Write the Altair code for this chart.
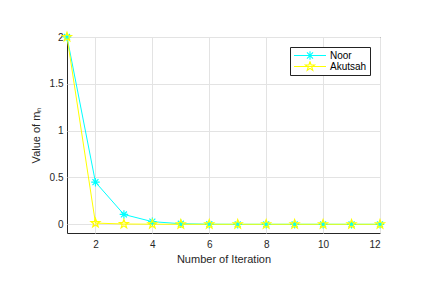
import altair as alt
import pandas as pd

iterations = [1, 2, 3, 4, 5, 6, 7, 8, 9, 10, 11, 12]
noor = [2.0, 0.45, 0.105, 0.028, 0.006, 0.001, 0, 0, 0, 0, 0, 0]
akutsah = [2.0, 0.013, 0.003, 0.001, 0, 0, 0, 0, 0, 0, 0, 0]
series = ["Noor", "Akutsah"]
colors = ["#00FFFF", "#FFFF00"]

rows = []
for name, vals in zip(series, [noor, akutsah]):
    for it, v in zip(iterations, vals):
        rows.append({"iter": it, "value": v, "method": name, "lg": name})
df = pd.DataFrame(rows)


def asterisk(r):
    d = 0.7 * r
    return (f"M{-r},0L{r},0M0,{-r}L0,{r}M{-d},{-d}L{d},{d}M{-d},{d}L{d},{-d}")


def star(r):
    pts = [(0, -1), (0.235, -0.324), (0.951, -0.309), (0.38, 0.124), (0.588, 0.809),
           (0, 0.4), (-0.588, 0.809), (-0.38, 0.124), (-0.951, -0.309), (-0.235, -0.324)]
    s = "M" + "L".join(f"{x * r:.3f},{y * r:.3f}" for x, y in pts) + "Z"
    return s


ast_path = asterisk(1)
star_path = star(1.1)
leg_ast = "M-1,0L1,0" + asterisk(0.27)
leg_star = "M-1,0L1,0" + star(0.3)

xenc = alt.X("iter:Q", scale=alt.Scale(domain=[1, 12], nice=False),
             axis=alt.Axis(values=[2, 4, 6, 8, 10, 12], title="Number of Iteration",
                           tickSize=0, labelPadding=6, titlePadding=4))
yenc = alt.Y("value:Q", scale=alt.Scale(domain=[-0.093, 2], nice=False, zero=False),
             axis=alt.Axis(values=[0, 0.5, 1, 1.5, 2], title="Value of mₙ", format="~g",
                           tickSize=0, labelPadding=4, titlePadding=8))
cscale = alt.Scale(domain=series, range=colors)

lines = alt.Chart(df).mark_line(strokeWidth=1).encode(
    x=xenc, y=yenc,
    color=alt.Color("method:N", scale=cscale, legend=None),
)
points = alt.Chart(df).mark_point(filled=False, size=72, strokeWidth=1.2, opacity=1).encode(
    x=xenc, y=yenc,
    color=alt.Color("method:N", scale=cscale, legend=None),
    shape=alt.Shape("method:N", scale=alt.Scale(domain=series, range=[ast_path, star_path]),
                    legend=None),
)
legend_cfg = alt.Legend(title=None, orient="top-right", offset=10,
                        strokeColor="#222222", fillColor="white",
                        padding=3, labelFontSize=10, labelColor="#000000",
                        labelFont="Liberation Sans", symbolSize=1024,
                        labelOffset=3, symbolStrokeWidth=1.1, symbolOpacity=1,
                        rowPadding=0, clipHeight=11, cornerRadius=0)
legend_layer = alt.Chart(df).mark_point(filled=False, opacity=0).encode(
    x=xenc, y=yenc,
    color=alt.Color("lg:N", scale=alt.Scale(domain=series, range=colors), legend=legend_cfg),
    shape=alt.Shape("lg:N", scale=alt.Scale(domain=series, range=[leg_ast, leg_star]),
                    legend=legend_cfg),
)

chart = alt.layer(lines, points, legend_layer).resolve_scale(
    color="independent", shape="independent"
).properties(
    width=313, height=196,
    autosize=alt.AutoSizeParams(type="none"),
    padding={"left": 59, "top": 29, "right": 26, "bottom": 41},
).configure_view(stroke="#262626", strokeWidth=1).configure_axis(
    grid=True, gridColor="#e3e3e3", domain=False,
    labelFont="Liberation Sans", titleFont="Liberation Sans",
    labelFontSize=10, titleFontSize=11, labelColor="#262626", titleColor="#262626",
    titleFontWeight="normal",
)

chart.save("out.html", embed_options={"renderer": "svg", "actions": False})
